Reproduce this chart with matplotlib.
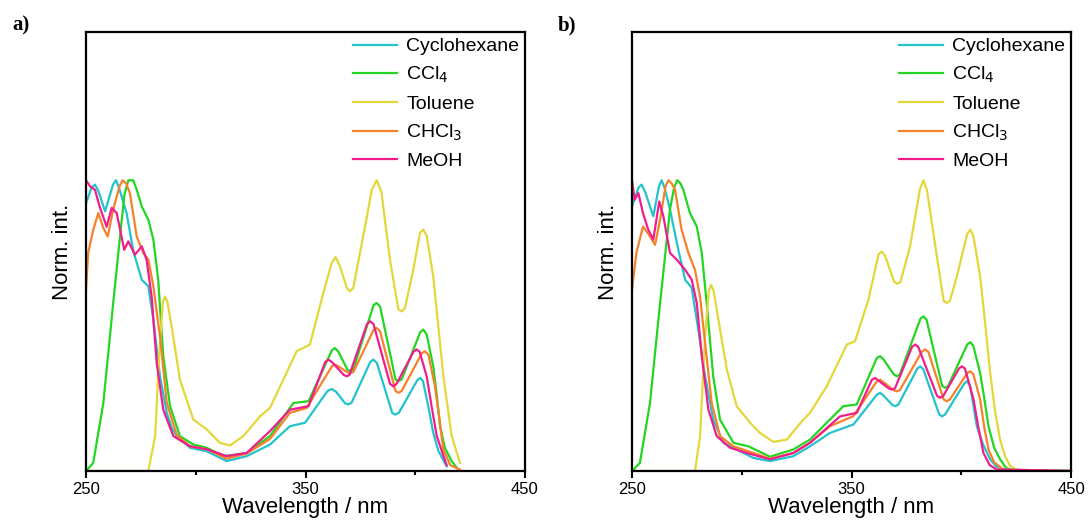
import matplotlib.pyplot as plt

plt.rcParams['font.family'] = ['Liberation Sans', 'DejaVu Sans']

labels = ['Cyclohexane', 'CCl$_4$', 'Toluene', 'CHCl$_3$', 'MeOH']
colors = ['#22c3cc', '#22d622', '#e3d73a', '#f5822a', '#f01e8c']

# panel a)
cyc_a_x = [250, 252.5, 254.1, 255.8, 258.7, 262.3, 263.7, 265.2, 268.5, 271.6, 275.4, 278.4, 280.7, 283.7, 286.8, 289,
           291.3, 297.4, 305, 314.1, 323.2, 333.8, 342.9, 349.8, 360, 361.9, 364, 368, 369.5, 371, 379.5, 380.9, 382.5,
           389.5, 390.8, 392.5, 401, 402.2, 403.5, 406, 408.2, 410.5, 414.3]
cyc_a_y = [0.92, 0.975, 0.985, 0.96, 0.893, 0.985, 1.0, 0.97, 0.887, 0.755, 0.658, 0.635, 0.52, 0.326, 0.2, 0.15,
           0.12, 0.08, 0.068, 0.034, 0.051, 0.091, 0.154, 0.166, 0.275, 0.282, 0.272, 0.233, 0.229, 0.235, 0.375, 0.383,
           0.372, 0.2, 0.194, 0.2, 0.313, 0.32, 0.31, 0.22, 0.131, 0.07, 0.016]
ccl_a_x = [250, 253.3, 257.9, 262.4, 265.5, 267.5, 269.3, 271.5, 273, 275.4, 278.4, 280.7, 282.9, 285.2, 288.3, 292.8,
           298.9, 305, 312.6, 323.2, 333.8, 344.5, 351.4, 362, 363.4, 365, 369, 370.3, 371.8, 381, 382.4, 384, 391,
           392.3, 393.8, 402.3, 403.7, 405.2, 408.2, 409.8, 411.3, 413.5, 416.6, 419]
ccl_a_y = [0.0, 0.028, 0.234, 0.578, 0.807, 0.95, 1.0, 1.0, 0.97, 0.91, 0.864, 0.796, 0.658, 0.395, 0.223, 0.12,
           0.091, 0.08, 0.051, 0.062, 0.12, 0.234, 0.24, 0.415, 0.423, 0.41, 0.35, 0.343, 0.35, 0.57, 0.578, 0.565, 0.315,
           0.309, 0.315, 0.478, 0.486, 0.47, 0.36, 0.26, 0.154, 0.08, 0.034, 0.01]
tol_a_x = [250, 278.4, 281.5, 283.4, 285, 286, 287, 289, 292.8, 298.9, 305, 311, 315.6, 321.7, 329.3, 333.8, 339.9,
           346, 352, 358.1, 361.9, 363.7, 365.7, 368.8, 370.3, 371.8, 374.8, 378, 380.2, 382.4, 384.6, 386.9, 388.5,
           392.3, 393.8, 395.3, 399.1, 402.2, 403.7, 405.2, 408.2, 412.8, 416.6, 420.4]
tol_a_y = [0.0, 0.0, 0.12, 0.406, 0.58, 0.6, 0.585, 0.498, 0.314, 0.177, 0.143, 0.097, 0.088, 0.12, 0.188, 0.217, 0.314,
           0.412, 0.435, 0.612, 0.715, 0.736, 0.704, 0.63, 0.618, 0.63, 0.75, 0.876, 0.967, 1.0, 0.96, 0.82, 0.727,
           0.556, 0.549, 0.56, 0.692, 0.82, 0.83, 0.81, 0.67, 0.326, 0.12, 0.028]
chc_a_x = [250, 251, 253.3, 255.6, 257.9, 259.9, 262.4, 265.3, 266.7, 268.2, 270, 273.1, 276.1, 278.4, 280.7, 283.7,
           286.8, 291.3, 297.4, 305, 314.1, 323.2, 333.8, 342.9, 350.5, 362, 363.4, 365, 369, 370.3, 371.8, 381, 382.4,
           384, 391, 392.3, 393.8, 403, 404.4, 406, 409, 411, 412.8, 416, 420.4]
chc_a_y = [0.624, 0.75, 0.83, 0.887, 0.836, 0.807, 0.9, 0.98, 1.0, 0.99, 0.956, 0.807, 0.75, 0.727, 0.635, 0.463,
           0.234, 0.125, 0.085, 0.075, 0.042, 0.06, 0.11, 0.2, 0.217, 0.36, 0.366, 0.36, 0.34, 0.337, 0.34, 0.485, 0.492,
           0.48, 0.275, 0.269, 0.275, 0.405, 0.412, 0.4, 0.291, 0.18, 0.074, 0.02, 0.005]
meo_a_x = [250, 251.8, 254.1, 256.2, 259.4, 261.7, 264, 267.4, 269.3, 272.3, 275.4, 277.6, 279.9, 282.2, 285.2, 289.8,
           297.4, 305, 314.1, 323.2, 333.8, 342.9, 351.4, 359, 360.4, 362, 367.5, 368.8, 370, 378, 379.4, 381, 388.5,
           390, 391.5, 399.2, 400.6, 402, 405.2, 407.5, 409.8, 414.3]
meo_a_y = [1.0, 0.98, 0.967, 0.91, 0.84, 0.905, 0.887, 0.761, 0.79, 0.744, 0.773, 0.727, 0.6, 0.372, 0.211, 0.12,
           0.085, 0.075, 0.051, 0.062, 0.137, 0.211, 0.223, 0.375, 0.383, 0.375, 0.33, 0.326, 0.33, 0.505, 0.515, 0.505,
           0.3, 0.291, 0.3, 0.41, 0.418, 0.41, 0.326, 0.22, 0.12, 0.02]

# panel b)
cyc_b_x = [250, 253, 254.4, 256, 259.7, 262.3, 263.5, 264.8, 267.3, 271.1, 274.2, 277.2, 280.2, 283.3, 287, 291.6,
           299.2, 305.3, 312.9, 323.5, 331.1, 340.2, 350.9, 361.5, 363, 364.5, 368.5, 369.9, 371.3, 380, 381.3, 382.7,
           390, 391.2, 392.6, 401.3, 402.6, 404, 407.1, 410, 413.2, 416, 420, 450]
cyc_b_y = [0.91, 0.975, 0.985, 0.96, 0.876, 0.98, 1.0, 0.975, 0.9, 0.761, 0.658, 0.63, 0.486, 0.326, 0.177, 0.097,
           0.068, 0.045, 0.034, 0.051, 0.085, 0.131, 0.16, 0.262, 0.269, 0.26, 0.228, 0.223, 0.228, 0.352, 0.36, 0.35,
           0.194, 0.188, 0.194, 0.3, 0.309, 0.295, 0.154, 0.09, 0.04, 0.015, 0.005, 0.0]
ccl_b_x = [250, 253.6, 258.2, 262.8, 267.3, 269.2, 270.6, 272, 273.4, 276.4, 279.5, 281.8, 284, 287, 290.1, 296.2,
           303, 312.9, 323.5, 331.1, 338.7, 346.3, 352.4, 361.5, 363, 364.5, 369.3, 370.6, 372, 381.4, 382.8, 384.2,
           391.3, 392.7, 394, 402.7, 404.1, 405.5, 408.6, 410.5, 412.4, 415, 417.7, 420.5, 425, 450]
ccl_b_y = [0.0, 0.028, 0.234, 0.578, 0.9, 0.975, 1.0, 0.99, 0.967, 0.887, 0.841, 0.75, 0.578, 0.326, 0.177, 0.097,
           0.085, 0.049, 0.074, 0.108, 0.166, 0.223, 0.229, 0.388, 0.395, 0.385, 0.332, 0.326, 0.332, 0.524, 0.532, 0.52,
           0.292, 0.286, 0.292, 0.435, 0.443, 0.43, 0.337, 0.25, 0.154, 0.08, 0.04, 0.01, 0.0, 0.0]
tol_b_x = [250, 278.7, 281, 283.3, 285, 286, 287.2, 288.6, 293.2, 297.7, 303.8, 308.3, 314.4, 320.5, 328.1, 331.1,
           338.7, 347.9, 351.6, 357.7, 362.3, 363.8, 365.3, 369.5, 370.9, 372.3, 376.7, 381.2, 382.8, 384.4, 388.9, 392,
           393.4, 394.8, 398, 402.7, 404.1, 405.5, 408.6, 411, 413.2, 415.5, 417.7, 420, 422.3, 425, 428, 450]
tol_b_y = [0.0, 0.0, 0.12, 0.463, 0.62, 0.64, 0.62, 0.555, 0.349, 0.223, 0.166, 0.131, 0.1, 0.108, 0.177, 0.2,
           0.291, 0.435, 0.446, 0.589, 0.745, 0.755, 0.74, 0.65, 0.644, 0.65, 0.773, 0.97, 1.0, 0.965, 0.738, 0.585,
           0.578, 0.585, 0.669, 0.815, 0.83, 0.81, 0.669, 0.5, 0.337, 0.2, 0.108, 0.05, 0.017, 0.005, 0.0, 0.0]
chc_b_x = [250, 252, 255, 258.2, 260.5, 262.8, 265.3, 266.6, 268, 269.6, 272.6, 275.7, 278.7, 281, 283.3, 286.3,
           290.1, 296.2, 305.3, 312.9, 323.5, 331.1, 340.2, 350.9, 361.5, 363, 364.5, 369.2, 370.6, 372, 382, 383.5,
           385, 392, 393.4, 394.8, 402.7, 404.1, 405.5, 408.6, 410.5, 412.4, 415, 419.2, 450]
chc_b_y = [0.624, 0.75, 0.841, 0.807, 0.778, 0.864, 0.98, 1.0, 0.99, 0.967, 0.83, 0.75, 0.692, 0.6, 0.44, 0.234,
           0.12, 0.085, 0.062, 0.042, 0.062, 0.097, 0.154, 0.189, 0.308, 0.314, 0.306, 0.278, 0.274, 0.278, 0.41, 0.418,
           0.41, 0.246, 0.24, 0.246, 0.336, 0.343, 0.333, 0.246, 0.15, 0.074, 0.03, 0.005, 0.0]
meo_b_x = [250, 251.2, 252.9, 255, 257.4, 259.7, 262.4, 264.3, 267.3, 270.4, 274.2, 277.2, 279.5, 281.8, 284.8, 288.6,
           294.7, 302.3, 312.9, 323.5, 331.1, 344.8, 352.4, 359.3, 360.7, 362.1, 367, 368.4, 369.8, 377.6, 379, 380.4,
           389, 390.4, 391.8, 399, 400.3, 401.7, 405.6, 407.8, 410.1, 413, 416.2, 450]
meo_b_y = [1.0, 0.933, 0.956, 0.887, 0.83, 0.796, 0.927, 0.876, 0.75, 0.727, 0.692, 0.658, 0.578, 0.395, 0.211, 0.12,
           0.08, 0.062, 0.04, 0.062, 0.097, 0.188, 0.2, 0.314, 0.32, 0.312, 0.284, 0.28, 0.284, 0.427, 0.435, 0.427,
           0.258, 0.252, 0.258, 0.353, 0.36, 0.352, 0.246, 0.15, 0.062, 0.02, 0.005, 0.0]

panels = [
    ('a)', [(cyc_a_x, cyc_a_y), (ccl_a_x, ccl_a_y), (tol_a_x, tol_a_y), (chc_a_x, chc_a_y), (meo_a_x, meo_a_y)]),
    ('b)', [(cyc_b_x, cyc_b_y), (ccl_b_x, ccl_b_y), (tol_b_x, tol_b_y), (chc_b_x, chc_b_y), (meo_b_x, meo_b_y)]),
]

fig = plt.figure(figsize=(10.88, 5.31), dpi=100)
lefts = [86 / 1088, 632 / 1088]
width = 439 / 1088

for (tag, series), left in zip(panels, lefts):
    ax = fig.add_axes([left, 60 / 531, width, 439 / 531])
    for (xs, ys), lab, c in zip(series, labels, colors):
        ax.plot(xs, ys, color=c, lw=1.6, label=lab, solid_joinstyle='round')
    ax.set_xlim(250, 450)
    ax.set_ylim(0, 1.51)
    ax.set_xticks([250, 350, 450])
    ax.set_xticks([300, 400], minor=True)
    ax.set_yticks([])
    ax.tick_params(axis='x', which='major', direction='out', length=5, width=1.5, labelsize=12, pad=3)
    ax.tick_params(axis='x', which='minor', direction='out', length=3, width=1.5)
    for s in ax.spines.values():
        s.set_linewidth(1.6)
    ax.set_xlabel('Wavelength / nm', fontsize=16, labelpad=0)
    ax.set_ylabel('Norm. int.', fontsize=16, labelpad=9)
    ax.legend(loc='upper right', frameon=False, fontsize=14, handlelength=2.3,
              labelspacing=0.5, borderaxespad=0.1, borderpad=0.2, handletextpad=0.45)
    fig.text(left - 74 / 1088, 1 - 25 / 531, tag, fontsize=15, fontweight='bold',
             family='Liberation Serif', va='center')

fig.savefig('out.png', dpi=100)
